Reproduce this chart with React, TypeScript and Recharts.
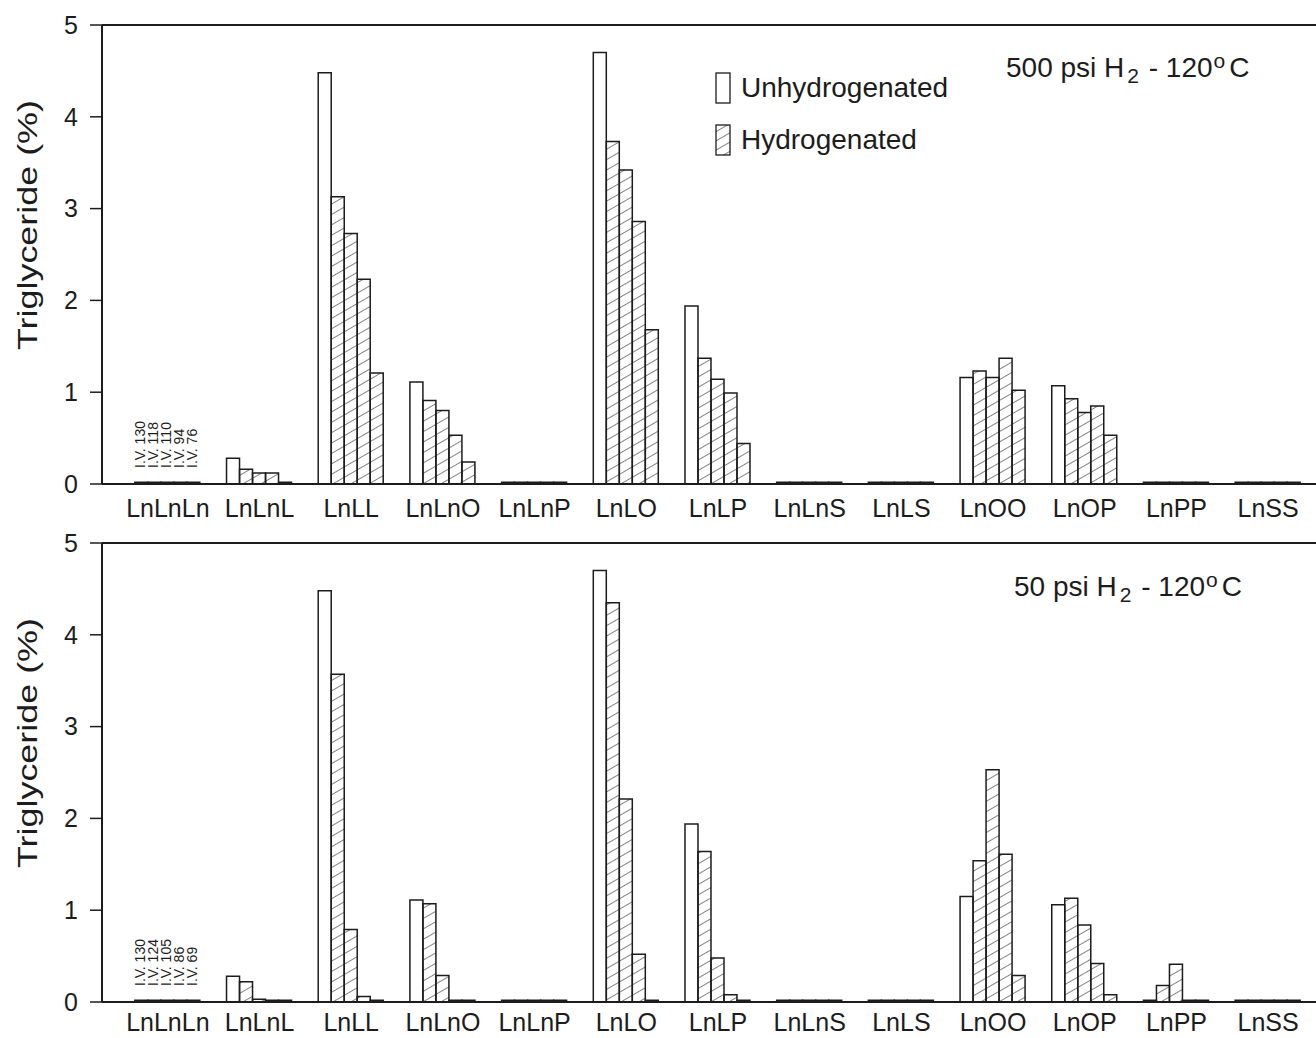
import React from 'react';
import { BarChart, Bar, XAxis, YAxis, Legend, LabelList, Label, ReferenceLine } from 'recharts';

const categories = ['LnLnLn', 'LnLnL', 'LnLL', 'LnLnO', 'LnLnP', 'LnLO', 'LnLP', 'LnLnS', 'LnLS', 'LnOO', 'LnOP', 'LnPP', 'LnSS'];

// 500 psi H2 - 120 C
const unhydro500 = [0.02, 0.28, 4.48, 1.11, 0.02, 4.7, 1.94, 0.02, 0.02, 1.16, 1.07, 0.02, 0.02];
const hyd1_500 = [0.02, 0.16, 3.13, 0.91, 0.02, 3.73, 1.37, 0.02, 0.02, 1.23, 0.93, 0.02, 0.02];
const hyd2_500 = [0.02, 0.12, 2.73, 0.8, 0.02, 3.42, 1.14, 0.02, 0.02, 1.16, 0.78, 0.02, 0.02];
const hyd3_500 = [0.02, 0.12, 2.23, 0.53, 0.02, 2.86, 0.99, 0.02, 0.02, 1.37, 0.85, 0.02, 0.02];
const hyd4_500 = [0.02, 0.02, 1.21, 0.24, 0.02, 1.68, 0.44, 0.02, 0.02, 1.02, 0.53, 0.02, 0.02];
const iv500 = ['I.V. 130', 'I.V. 118', 'I.V. 110', 'I.V. 94', 'I.V. 76'];

// 50 psi H2 - 120 C
const unhydro50 = [0.02, 0.28, 4.48, 1.11, 0.02, 4.7, 1.94, 0.02, 0.02, 1.15, 1.06, 0.02, 0.02];
const hyd1_50 = [0.02, 0.22, 3.57, 1.07, 0.02, 4.35, 1.64, 0.02, 0.02, 1.54, 1.13, 0.18, 0.02];
const hyd2_50 = [0.02, 0.03, 0.79, 0.29, 0.02, 2.21, 0.48, 0.02, 0.02, 2.53, 0.84, 0.41, 0.02];
const hyd3_50 = [0.02, 0.02, 0.06, 0.02, 0.02, 0.52, 0.08, 0.02, 0.02, 1.61, 0.42, 0.02, 0.02];
const hyd4_50 = [0.02, 0.02, 0.02, 0.02, 0.02, 0.02, 0.02, 0.02, 0.02, 0.29, 0.08, 0.02, 0.02];
const iv50 = ['I.V. 130', 'I.V. 124', 'I.V. 105', 'I.V. 86', 'I.V. 69'];

const yTicks = [0, 1, 2, 3, 4, 5];
const legendItems = ['Unhydrogenated', 'Hydrogenated'];

const FONT = '"Liberation Sans", Arial, Helvetica, sans-serif';
const INK = '#1c1c1c';
const seriesKeys = ['u', 'h1', 'h2', 'h3', 'h4'];

const buildRows = (series: number[][], iv: string[]) =>
  categories.map((name, i) => {
    const row: any = { name };
    seriesKeys.forEach((k, s) => {
      row[k] = series[s][i];
      row['iv' + s] = i === 0 ? iv[s] : undefined;
    });
    return row;
  });

const rows500 = buildRows([unhydro500, hyd1_500, hyd2_500, hyd3_500, hyd4_500], iv500);
const rows50 = buildRows([unhydro50, hyd1_50, hyd2_50, hyd3_50, hyd4_50], iv50);

const IvLabel = (props: any) => {
  if (!props.value) return null;
  const vb = props.viewBox || props;
  const cx = vb.x + vb.width / 2 - 1;
  const y0 = vb.y + vb.height - 16;
  return (
    <text
      x={cx}
      y={y0}
      transform={`rotate(-90 ${cx} ${y0})`}
      textAnchor="start"
      dominantBaseline="central"
      fontSize={14}
      fontFamily={FONT}
      fill={INK}
    >
      {props.value}
    </text>
  );
};

const YTitle = (props: any) => {
  const vb = props.viewBox;
  const x = vb.x + 27;
  const y = vb.y + 200;
  return (
    <text
      x={x}
      y={y}
      transform={`rotate(-90 ${x} ${y})`}
      textAnchor="middle"
      dominantBaseline="central"
      fontSize={28}
      textLength={250}
      lengthAdjust="spacingAndGlyphs"
      fontFamily={FONT}
      fill={INK}
    >
      Triglyceride (%)
    </text>
  );
};

const renderLegend = () => (
  <div style={{ fontFamily: FONT, fontSize: 28, color: INK }}>
    {legendItems.map((item, i) => (
      <div key={item} style={{ display: 'flex', alignItems: 'center', height: 52 }}>
        <svg width={27} height={34}>
          <defs>
            <pattern id="hatchLegend" patternUnits="userSpaceOnUse" width={8} height={8} patternTransform="rotate(-30)">
              <line x1={0} y1={0} x2={8} y2={0} stroke={INK} strokeWidth={1.1} />
            </pattern>
          </defs>
          <rect x={2} y={2} width={14} height={30} fill={i === 0 ? '#fff' : 'url(#hatchLegend)'} stroke={INK} strokeWidth={1.3} />
        </svg>
        <span>{item}</span>
      </div>
    ))}
  </div>
);

const Panel = ({ rows, title, showLegend, labelGap }: { rows: any[]; title: React.ReactNode; showLegend?: boolean; labelGap: number }) => (
  <div style={{ position: 'relative', width: 1316, height: 519 }}>
    <BarChart
      width={1316}
      height={535}
      data={rows}
      margin={{ top: 25, right: 0, bottom: 21, left: 0 }}
      barCategoryGap="14%"
      barGap={0}
    >
      <defs>
        <pattern id="hatch" patternUnits="userSpaceOnUse" width={8} height={9} patternTransform="rotate(-30)">
          <line x1={0} y1={0} x2={8} y2={0} stroke={INK} strokeWidth={1.1} />
        </pattern>
      </defs>
      <XAxis
        dataKey="name"
        padding={{ left: 20, right: 2 }}
        tickLine={false}
        axisLine={{ stroke: INK, strokeWidth: 2 }}
        tick={{ fontSize: 25, fill: INK, fontFamily: FONT }}
        tickMargin={labelGap}
        height={30}
        interval={0}
      />
      <YAxis
        domain={[0, 5]}
        ticks={yTicks}
        width={102}
        tickSize={12}
        tickMargin={12}
        axisLine={{ stroke: INK, strokeWidth: 2 }}
        tickLine={{ stroke: INK, strokeWidth: 1.5 }}
        tick={{ fontSize: 25, fill: INK, fontFamily: FONT }}
      >
        <Label content={YTitle} />
      </YAxis>
      <ReferenceLine y={5} stroke={INK} strokeWidth={2} />
      {showLegend && (
        <Legend
          layout="vertical"
          align="center"
          verticalAlign="middle"
          content={renderLegend}
          wrapperStyle={{ position: 'absolute', left: 714, top: 62, width: 290 }}
        />
      )}
      {seriesKeys.map((k, s) => (
        <Bar
          key={k}
          dataKey={k}
          fill={s === 0 ? '#ffffff' : 'url(#hatch)'}
          stroke={INK}
          strokeWidth={1.5}
          isAnimationActive={false}
        >
          <LabelList dataKey={'iv' + s} content={IvLabel} />
        </Bar>
      ))}
    </BarChart>
    {title}
  </div>
);

const Title = ({ lead, top, left }: { lead: string; top: number; left: number }) => (
  <div
    style={{
      position: 'absolute',
      top,
      left,
      fontFamily: FONT,
      fontSize: 28,
      color: INK,
      whiteSpace: 'nowrap',
      lineHeight: 1,
    }}
  >
    {lead} psi H<span style={{ fontSize: 21, position: 'relative', top: 6, marginLeft: 3, marginRight: 2 }}>2</span> - 120
    <span style={{ fontSize: 21, position: 'relative', top: -9, marginLeft: 1, marginRight: 4 }}>o</span>C
  </div>
);

export default function App() {
  return (
    <div style={{ position: 'absolute', left: 0, top: 0, width: 1316, height: 1038, background: '#fff', overflow: 'hidden' }}>
      <Panel rows={rows500} showLegend labelGap={9} title={<Title lead="500" top={54} left={1006} />} />
      <div style={{ position: 'absolute', top: 518, left: 0 }}>
        <Panel rows={rows50} labelGap={5} title={<Title lead="50" top={55} left={1014} />} />
      </div>
    </div>
  );
}
